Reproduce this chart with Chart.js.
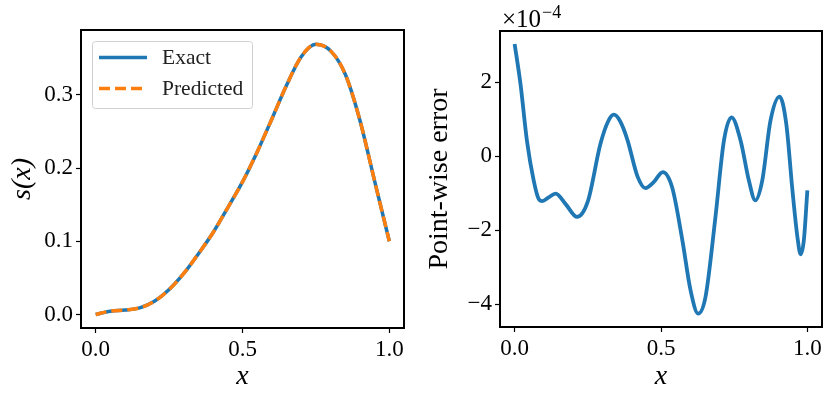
<!DOCTYPE html>
<html>
<head>
<meta charset="utf-8">
<script src="https://cdn.jsdelivr.net/npm/chart.js@4/dist/chart.umd.min.js"></script>
<style>
  html, body { margin: 0; padding: 0; background: #fff; }
  #wrap { position: relative; width: 831px; height: 398px; }
  .panel { position: absolute; top: 0; }
</style>
</head>
<body>
<div id="wrap">
  <div class="panel" style="left:0"><canvas id="left" width="415" height="398"></canvas></div>
  <div class="panel" style="left:415px"><canvas id="right" width="416" height="398"></canvas></div>
</div>
<script>
// left panel: s(x)
const xS = [0, 0.05, 0.1, 0.15, 0.2, 0.25, 0.3, 0.35, 0.4, 0.45, 0.5, 0.55, 0.6, 0.65, 0.7, 0.75, 0.8, 0.85, 0.9, 0.95, 1.0];
const sExact = [0, 0.0045, 0.006, 0.009, 0.018, 0.034, 0.056, 0.083, 0.112, 0.146, 0.181, 0.222, 0.267, 0.313, 0.352, 0.369, 0.360, 0.328, 0.265, 0.182, 0.1];
const sPred = [0, 0.0045, 0.006, 0.009, 0.018, 0.034, 0.056, 0.083, 0.112, 0.146, 0.181, 0.222, 0.267, 0.313, 0.352, 0.369, 0.360, 0.328, 0.265, 0.182, 0.1];

// right panel: point-wise error (units of 1e-4)
const xErr = [0, 0.02, 0.042, 0.065, 0.082, 0.095, 0.115, 0.14, 0.175, 0.213, 0.25, 0.293, 0.32, 0.339, 0.36, 0.385, 0.42, 0.447, 0.475, 0.506, 0.538, 0.573, 0.601, 0.627, 0.652, 0.686, 0.715, 0.741, 0.772, 0.8, 0.822, 0.846, 0.874, 0.905, 0.928, 0.949, 0.966, 0.977, 0.988, 1.0];
const err = [3.03, 1.95, 0.42, -0.65, -1.15, -1.21, -1.12, -1.01, -1.30, -1.64, -1.22, 0.33, 0.95, 1.12, 0.95, 0.45, -0.55, -0.86, -0.70, -0.43, -0.84, -2.27, -3.62, -4.25, -3.80, -1.64, 0.42, 1.05, 0.42, -0.65, -1.19, -0.65, 0.96, 1.61, 0.87, -0.92, -2.18, -2.65, -2.27, -0.92];

const xTicks = [0, 0.5, 1.0];
const sTicks = [0, 0.1, 0.2, 0.3];
const errTicks = [-4, -2, 0, 2];

const SERIF = "'Liberation Serif', 'DejaVu Serif', serif";
const tickFont = { family: SERIF, size: 23 };
const BLUE = "#1f77b4";
const ORANGE = "#ff7f0e";

const pts = (xs, ys) => xs.map((x, i) => ({ x: x, y: ys[i] }));
const minus = (s) => s.replace("-", "\u2212");

function makeAxis(tickVals, fmt, min, max) {
  return {
    type: "linear",
    min: min,
    max: max,
    afterBuildTicks: (s) => { s.ticks = tickVals.map((v) => ({ value: v })); },
    ticks: { callback: fmt, color: "#000", font: tickFont, padding: 3, autoSkip: false, maxRotation: 0 },
    grid: { drawOnChartArea: false, drawTicks: true, tickLength: 5, tickWidth: 1.2, tickColor: "#000" },
    border: { display: false }
  };
}

// black frame round the plot area
const frame = {
  id: "frame",
  afterDraw(chart) {
    const a = chart.chartArea, ctx = chart.ctx;
    ctx.save();
    ctx.strokeStyle = "#000";
    ctx.lineWidth = 2;
    ctx.strokeRect(a.left, a.top, a.right - a.left, a.bottom - a.top);
    ctx.restore();
  }
};

const legendBox = {
  id: "legendBox",
  afterDraw(chart) {
    const ctx = chart.ctx;
    ctx.save();
    ctx.beginPath();
    ctx.roundRect(92.5, 41.5, 160, 67, 3);
    ctx.fillStyle = "rgba(255,255,255,0.8)";
    ctx.fill();
    ctx.strokeStyle = "#d0d0d0";
    ctx.lineWidth = 1;
    ctx.stroke();
    const rows = [57.5, 88.5];
    chart.data.datasets.forEach((ds, i) => {
      ctx.beginPath();
      ctx.setLineDash(ds.borderDash || []);
      ctx.strokeStyle = ds.borderColor;
      ctx.lineWidth = ds.borderWidth;
      ctx.moveTo(99, rows[i]);
      ctx.lineTo(147, rows[i]);
      ctx.stroke();
      ctx.setLineDash([]);
      ctx.fillStyle = "#222";
      ctx.font = "21.5px " + SERIF;
      ctx.textBaseline = "middle";
      ctx.fillText(ds.label, 162, rows[i] + 1);
    });
    ctx.restore();
  }
};

const offsetText = {
  id: "offsetText",
  afterDraw(chart) {
    const ctx = chart.ctx;
    ctx.save();
    ctx.fillStyle = "#000";
    ctx.textBaseline = "alphabetic";
    ctx.font = "25px " + SERIF;
    ctx.fillText("\u00d710", 87, 26.5);
    const w = ctx.measureText("\u00d710").width;
    ctx.font = "18px " + SERIF;
    ctx.fillText("\u22124", 87 + w + 1, 17.5);
    ctx.restore();
  }
};

new Chart(document.getElementById("left"), {
  type: "line",
  data: {
    datasets: [
      { label: "Exact", data: pts(xS, sExact), borderColor: BLUE, borderWidth: 3.5, pointRadius: 0, cubicInterpolationMode: "monotone", order: 1 },
      { label: "Predicted", data: pts(xS, sPred), borderColor: ORANGE, borderWidth: 3.5, borderDash: [11, 5], pointRadius: 0, cubicInterpolationMode: "monotone", order: 0 }
    ]
  },
  options: {
    responsive: false,
    animation: false,
    devicePixelRatio: 1,
    layout: { padding: { left: 0, right: 11, top: 30, bottom: 0 } },
    plugins: { legend: { display: false }, tooltip: { enabled: false } },
    scales: {
      x: Object.assign(makeAxis(xTicks, (v) => v.toFixed(1), -0.05, 1.05), {
        afterFit: (s) => { s.height = 70; },
        title: { display: true, text: "x", color: "#000", font: { family: SERIF, size: 28, style: "italic", lineHeight: 1 }, padding: { top: 0, bottom: 7 } }
      }),
      y: Object.assign(makeAxis(sTicks, (v) => v.toFixed(1), -0.0185, 0.3885), {
        afterFit: (s) => { s.width = 81; },
        title: { display: true, text: "s(x)", color: "#000", font: { family: SERIF, size: 28, style: "italic", lineHeight: 1 }, padding: { top: 9, bottom: 0 } }
      })
    }
  },
  plugins: [frame, legendBox]
});

new Chart(document.getElementById("right"), {
  type: "line",
  data: {
    datasets: [
      { label: "Error", data: pts(xErr, err), borderColor: BLUE, borderWidth: 3.8, pointRadius: 0, cubicInterpolationMode: "monotone" }
    ]
  },
  options: {
    responsive: false,
    animation: false,
    devicePixelRatio: 1,
    layout: { padding: { left: 0, right: 9, top: 31, bottom: 0 } },
    plugins: { legend: { display: false }, tooltip: { enabled: false } },
    scales: {
      x: Object.assign(makeAxis(xTicks, (v) => v.toFixed(1), -0.05, 1.05), {
        afterFit: (s) => { s.height = 71; },
        title: { display: true, text: "x", color: "#000", font: { family: SERIF, size: 28, style: "italic", lineHeight: 1 }, padding: { top: 0, bottom: 7 } }
      }),
      y: Object.assign(makeAxis(errTicks, (v) => minus(String(v)), -4.61, 3.38), {
        afterFit: (s) => { s.width = 85; },
        title: { display: true, text: "Point-wise error", color: "#000", font: { family: SERIF, size: 28, lineHeight: 1 }, padding: { top: 11, bottom: 0 } }
      })
    }
  },
  plugins: [frame, offsetText]
});
</script>
</body>
</html>
